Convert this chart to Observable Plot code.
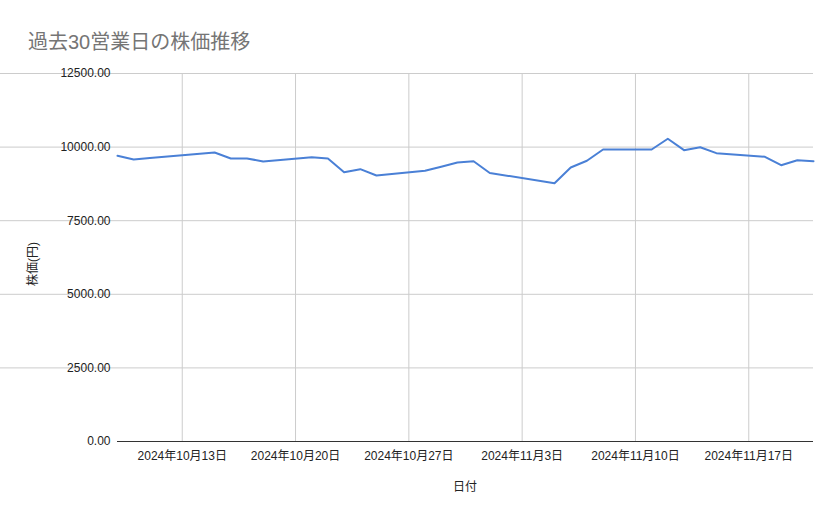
<!DOCTYPE html>
<html>
<head>
<meta charset="utf-8">
<script src="https://cdn.jsdelivr.net/npm/d3@7"></script>
<script src="https://cdn.jsdelivr.net/npm/@observablehq/plot@0.6"></script>
<style>
  body { margin: 0; background: #fff; }
  #wrap { position: relative; width: 839px; height: 519px; font-family: "Liberation Sans", Arial, "Noto Sans CJK JP", sans-serif; }
  #title { position: absolute; left: 28px; top: 26px; font-size: 20px; color: #757575; white-space: nowrap; }
</style>
</head>
<body>
<div id="wrap">
  <div id="chart"></div>
  <div id="title">過去30営業日の株価推移</div>
</div>
<script>
const dates = [
  "2024-10-09","2024-10-10","2024-10-11","2024-10-15","2024-10-16","2024-10-17","2024-10-18",
  "2024-10-21","2024-10-22","2024-10-23","2024-10-24","2024-10-25",
  "2024-10-28","2024-10-29","2024-10-30","2024-10-31","2024-11-01",
  "2024-11-05","2024-11-06","2024-11-07","2024-11-08",
  "2024-11-11","2024-11-12","2024-11-13","2024-11-14","2024-11-15",
  "2024-11-18","2024-11-19","2024-11-20","2024-11-21"
];
const prices = [
  9705, 9580, 9627, 9817, 9614, 9614, 9512,
  9658, 9614, 9148, 9250, 9036,
  9196, 9335, 9478, 9518, 9121,
  8775, 9308, 9535, 9919,
  9919, 10283, 9896, 9997, 9794,
  9671, 9386, 9556, 9522
];
const xTicks = ["2024-10-13","2024-10-20","2024-10-27","2024-11-03","2024-11-10","2024-11-17"];
const yTicks = [0, 2500, 5000, 7500, 10000, 12500];
const xDomain = ["2024-10-09", "2024-11-21"];
const yLabel = "株価(円)";
const xLabel = "日付";

const parse = s => new Date(s + "T00:00:00Z");
const data = dates.map((d, i) => ({date: parse(d), price: prices[i]}));
const fmtDate = d => `${d.getUTCFullYear()}年${d.getUTCMonth() + 1}月${d.getUTCDate()}日`;

const font = '"Liberation Sans", Arial, "Noto Sans CJK JP", sans-serif';

const chart = Plot.plot({
  width: 839,
  height: 519,
  marginLeft: 117,
  marginRight: 26,
  marginTop: 73,
  marginBottom: 78,
  style: {fontFamily: font, fontSize: "12px", color: "#222", background: "#fff"},
  x: {type: "utc", domain: xDomain.map(parse), label: null},
  y: {domain: [0, 12500], label: null},
  marks: [
    Plot.gridX(xTicks.map(parse), {stroke: "#cccccc", strokeOpacity: 1}),
    Plot.gridY(yTicks.filter(v => v > 0), {stroke: "#cccccc", strokeOpacity: 1, x1: 117 - 117, insetLeft: 0}),
    Plot.ruleY([0], {stroke: "#333333", strokeWidth: 1}),
    Plot.axisX(xTicks.map(parse), {tickSize: 0, tickPadding: 10, tickFormat: fmtDate, fontSize: 12, fill: "#222"}),
    Plot.axisY(yTicks, {tickSize: 0, tickPadding: 7, tickFormat: d => d.toFixed(2), fontSize: 12, fill: "#222"}),
    Plot.line(data, {x: "date", y: "price", stroke: "#4a80d6", strokeWidth: 2, curve: "linear"})
  ]
});
document.getElementById("chart").appendChild(chart);

const svg = d3.select(chart);
svg.append("text")
  .attr("x", 465).attr("y", 491)
  .attr("text-anchor", "middle")
  .attr("font-size", 12).attr("fill", "#222")
  .style("font-family", font)
  .text(xLabel);
svg.append("text")
  .attr("transform", "translate(37,264) rotate(-90)")
  .attr("text-anchor", "middle")
  .attr("font-size", 12).attr("fill", "#222")
  .style("font-family", font)
  .text(yLabel);
</script>
</body>
</html>
